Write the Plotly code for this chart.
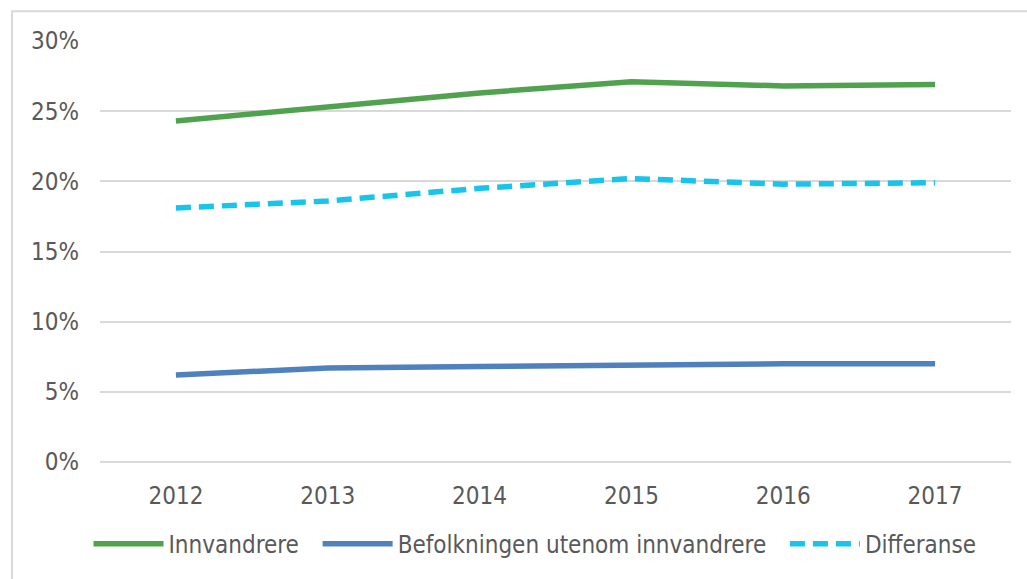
import plotly.graph_objects as go

years = ["2012", "2013", "2014", "2015", "2016", "2017"]
innvandrere = [24.3, 25.3, 26.3, 27.1, 26.8, 26.9]
befolkningen = [6.2, 6.7, 6.8, 6.9, 7.0, 7.0]
differanse = [18.1, 18.6, 19.5, 20.2, 19.8, 19.9]
series_names = ["Innvandrere", "Befolkningen utenom innvandrere", "Differanse"]
y_ticks = [0, 5, 10, 15, 20, 25, 30]
y_tick_labels = [f"{v}%" for v in y_ticks]

FONT = "DejaVu Sans Condensed, Tahoma, DejaVu Sans, sans-serif"
TXT = "#595959"
GRID = "#D9D9D9"
FS = 24
PAD = "\u00a0\u00a0"

fig = go.Figure()
fig.add_trace(go.Scatter(x=years, y=innvandrere, name=series_names[0] + PAD, mode="lines",
                         line=dict(color="#51A24F", width=5.5)))
fig.add_trace(go.Scatter(x=years, y=befolkningen, name=series_names[1] + PAD, mode="lines",
                         line=dict(color="#4F81BD", width=5.5)))
fig.add_trace(go.Scatter(x=years, y=differanse, name=series_names[2], mode="lines",
                         line=dict(color="#17C4EB", width=5.5, dash="15px,8px")))

L, R, T, B = 100, 16, 41, 112
W, H = 1027, 579
pw, ph = W - L - R, H - T - B
y0px = H - B

fig.update_layout(
    width=W, height=H,
    margin=dict(l=L, r=R, t=T, b=B),
    paper_bgcolor="white", plot_bgcolor="white",
    font=dict(family=FONT, size=FS, color=TXT),
    showlegend=True,
    legend=dict(orientation="h", x=(535 - L) / pw, xanchor="center", y=(y0px - 550) / ph, yanchor="middle",
                font=dict(family=FONT, size=FS, color=TXT), itemwidth=70, tracegroupgap=0),
    xaxis=dict(type="category", range=[-0.5, 5.5], showgrid=False, zeroline=False,
               showline=False, ticks="", ticklabelstandoff=17,
               tickfont=dict(family=FONT, size=FS, color=TXT)),
    yaxis=dict(range=[0, 30], tickvals=y_ticks, ticktext=y_tick_labels,
               showgrid=True, gridcolor=GRID, gridwidth=1.5,
               zeroline=True, zerolinecolor=GRID, zerolinewidth=1.5,
               showline=False, ticks="", ticklabelstandoff=20,
               tickfont=dict(family=FONT, size=FS, color=TXT)),
    shapes=[dict(type="rect", xref="paper", yref="paper",
                 x0=(12 - L) / pw, x1=(W + 20 - L) / pw,
                 y0=(y0px - (H + 20)) / ph, y1=(y0px - 11) / ph,
                 line=dict(color=GRID, width=2), fillcolor="rgba(0,0,0,0)", layer="below")],
)

fig.write_html("out.html", config={"displayModeBar": False},
               post_script="document.body.style.margin='0px';document.body.style.overflow='hidden';")
